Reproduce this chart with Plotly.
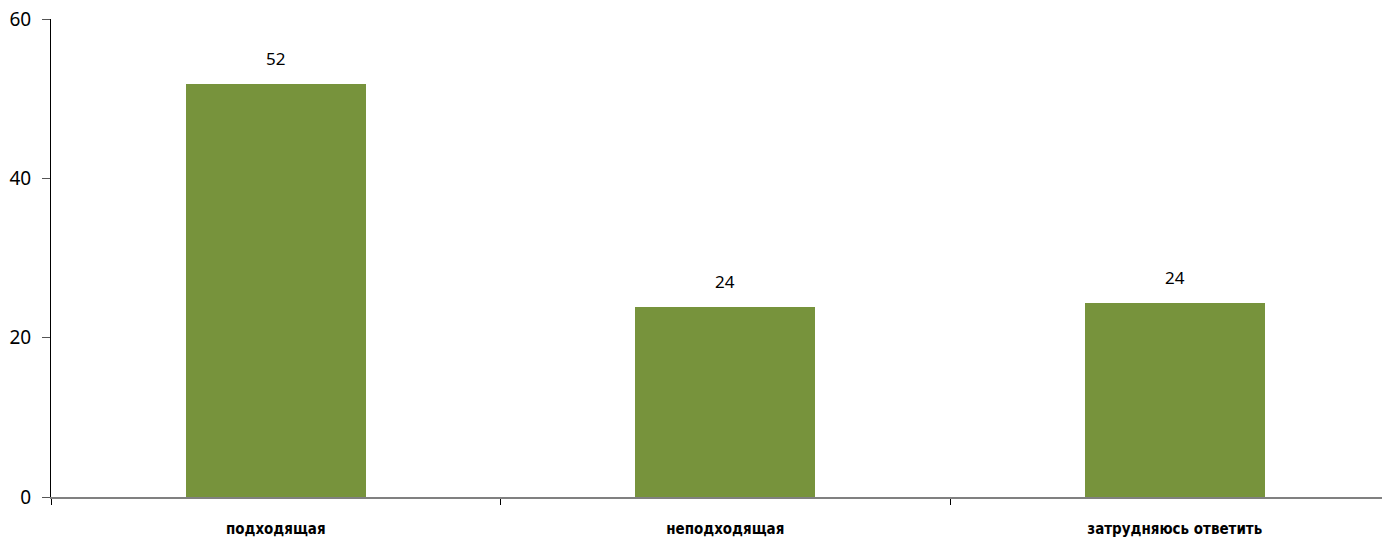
import plotly.graph_objects as go

categories = ["подходящая", "неподходящая", "затрудняюсь ответить"]
values = [51.8, 23.8, 24.3]
labels = ["52", "24", "24"]
y_ticks = [0, 20, 40, 60]

fig = go.Figure()
fig.add_trace(go.Bar(
    x=categories, y=values, width=0.4,
    marker=dict(color="#77933c", line=dict(width=0)),
    hoverinfo="skip",
))
for c, v, t in zip(categories, values, labels):
    fig.add_annotation(x=c, y=v, text=t, showarrow=False, yanchor="bottom",
                       yshift=12, font=dict(family="Noto Sans", size=17, color="#000"))

fig.update_layout(
    width=1382, height=540,
    margin=dict(l=51, r=0, t=19, b=43, autoexpand=False),
    plot_bgcolor="white", paper_bgcolor="white",
    showlegend=False,
    bargap=0,
)
fig.update_xaxes(
    type="category", range=[-0.5, 2.461], automargin=False,
    tickson="boundaries", ticks="outside", ticklen=6, tickcolor="#000", tickwidth=1,
    showline=True, linecolor="#808080", linewidth=2,
    showgrid=False, zeroline=False, ticklabelstandoff=17,
    tickfont=dict(family="DejaVu Sans Condensed, DejaVu Sans", size=15, color="#000",
                  weight="bold"),
)
fig.update_yaxes(
    range=[0, 60], tickvals=y_ticks, ticktext=[str(v) for v in y_ticks], automargin=False,
    ticks="outside", ticklen=8, tickcolor="#555", tickwidth=1,
    showline=True, linecolor="#000", linewidth=1,
    showgrid=False, zeroline=False, ticklabelstandoff=7,
    tickfont=dict(family="Noto Sans", size=19, color="#000"),
)
fig.write_html("out.html", config={"displayModeBar": False},
               post_script="document.body.style.margin='0';")
